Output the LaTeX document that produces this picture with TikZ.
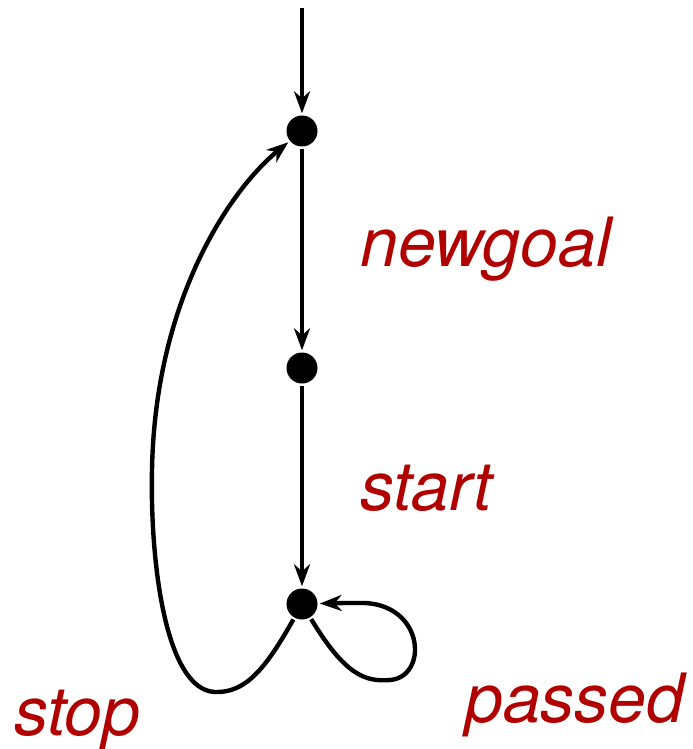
\documentclass[tikz,border=0pt]{standalone}
\usepackage{fontspec}
\setmainfont{TeX Gyre Heros}
\usetikzlibrary{arrows.meta}
\definecolor{labelred}{RGB}{176,0,0}

\begin{document}
\begin{tikzpicture}[x=0.5pt,y=-0.5pt,line width=2.2pt,>={Stealth[length=11pt,width=8pt,inset=3.5pt]}]
\tikzstyle{state}=[circle,fill=black,inner sep=0pt,minimum size=15.5pt]
\tikzstyle{lbl}=[anchor=base west,inner sep=0pt,text=labelred,font=\fontsize{34}{40}\selectfont\itshape]
	\useasboundingbox (0,0) rectangle (692,749);
	%    states, top to bottom
	\coordinate (init) at (302,8);
	\node[state] (goal) at (302,131) {};
	\node[state] (ready) at (302,368) {};
	\node[state] (run) at (302,604) {};
	% transitions
	\draw[->] (init) -- (goal);
	\draw[->] (goal) -- (ready);
	\draw[->] (ready) -- (run);
	\draw[->] (run) .. controls (265,670) and (245,693) .. (215,692)
		.. controls (165,690) and (150,560) .. (152,470)
		.. controls (155,300) and (230,190) .. (goal);
	\draw[->] (run) .. controls (345,675) and (365,682) .. (390,680)
		.. controls (428,677) and (425,606) .. (365,603)
		.. controls (350,603) and (340,603) .. (run);
	% labels
	\node[lbl] (newgoal) at (358,266) {newgoal};
	\node[lbl] (start) at (358,510) {start};
	\node[lbl] (stop) at (12,735) {stop};
	\node[lbl] (passed) at (463,722) {passed};
%	\node at (ready) {};
\end{tikzpicture}
\end{document}
